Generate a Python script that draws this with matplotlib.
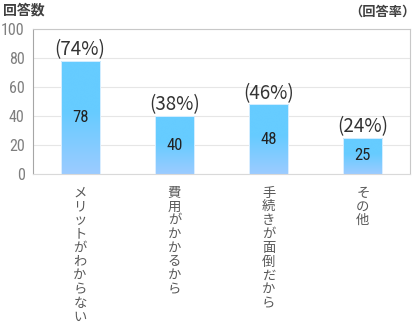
import numpy as np
import matplotlib
matplotlib.use("Agg")
import matplotlib.pyplot as plt
from matplotlib.colors import LinearSegmentedColormap
from matplotlib import font_manager

plt.rcParams['font.family'] = ['Noto Sans CJK JP', 'DejaVu Sans']

categories = ["メリットがわからない", "費用がかかるから", "手続きが面倒だから", "その他"]
counts = [78, 40, 48, 25]
rates = ["(74%)", "(38%)", "(46%)", "(24%)"]
yticks = [0, 20, 40, 60, 80, 100]

names = {f.name for f in font_manager.fontManager.ttflist}
narrow_name = next((n for n in ['Liberation Sans Narrow', 'DejaVu Sans Condensed', 'Roboto Condensed']
                    if n in names), 'DejaVu Sans')
narrow = dict(family=narrow_name, stretch='condensed', weight='normal')

fig = plt.figure(figsize=(4.2, 3.26), dpi=100)
ax = fig.add_axes([33 / 420, 1 - 174 / 326, 377 / 420, 145 / 326])

x = np.arange(len(categories))
bars = ax.bar(x, counts, width=0.415, color='none', edgecolor='#e8f4ff', linewidth=0.6, zorder=3)

# vertical gradient fill inside each bar
cmap = LinearSegmentedColormap.from_list('barfill', [(0, '#9ccbff'), (0.55, '#66ccff'), (1, '#66ccff')])
grad = np.linspace(0, 1, 256).reshape(-1, 1)
for b in bars:
    x0, w, h = b.get_x(), b.get_width(), b.get_height()
    im = ax.imshow(grad, extent=[x0, x0 + w, 0, h], origin='lower', cmap=cmap,
                   aspect='auto', zorder=2, interpolation='bicubic')
    im.set_clip_path(b)

for xi, c, r in zip(x, counts, rates):
    ax.text(xi, c / 2, str(c), ha='center', va='center', fontsize=12,
            color='#222222', zorder=4, **narrow)
    ax.text(xi, c + 0.5, r, ha='center', va='bottom', fontsize=13.5,
            color='#333333', zorder=4)

ax.set_xlim(-0.5, len(categories) - 0.5)
ax.set_ylim(0, 100)
ax.set_yticks(yticks)
ax.set_yticklabels([str(t) for t in yticks], fontsize=11.5, color='#7f7f7f', **narrow)
ax.set_xticks([])
ax.tick_params(axis='y', length=0, pad=6)
ax.grid(axis='y', color='#e6e6e6', linewidth=0.8, zorder=0)
ax.set_axisbelow(True)
for s in ax.spines.values():
    s.set_color('#c8c8c8')
    s.set_linewidth(0.8)
ax.spines['left'].set_color('#a6a6a6')
ax.spines['bottom'].set_color('#d9d9d9')

# stacked vertical category labels
for xi, cat in zip(x, categories):
    ax.text(xi, -8, "\n".join(cat), ha='center', va='top', fontsize=9.6,
            color='#595959', linespacing=0.98, transform=ax.transData)

fig.text(3 / 420, 1 - 11 / 326, "回答数", ha='left', va='center', fontsize=10,
         fontweight='bold', color='#404040')
fig.text(416 / 420, 1 - 12 / 326, "（回答率）", ha='right', va='center', fontsize=9.5,
         fontweight='bold', color='#404040')

fig.savefig("out.png", dpi=100)
